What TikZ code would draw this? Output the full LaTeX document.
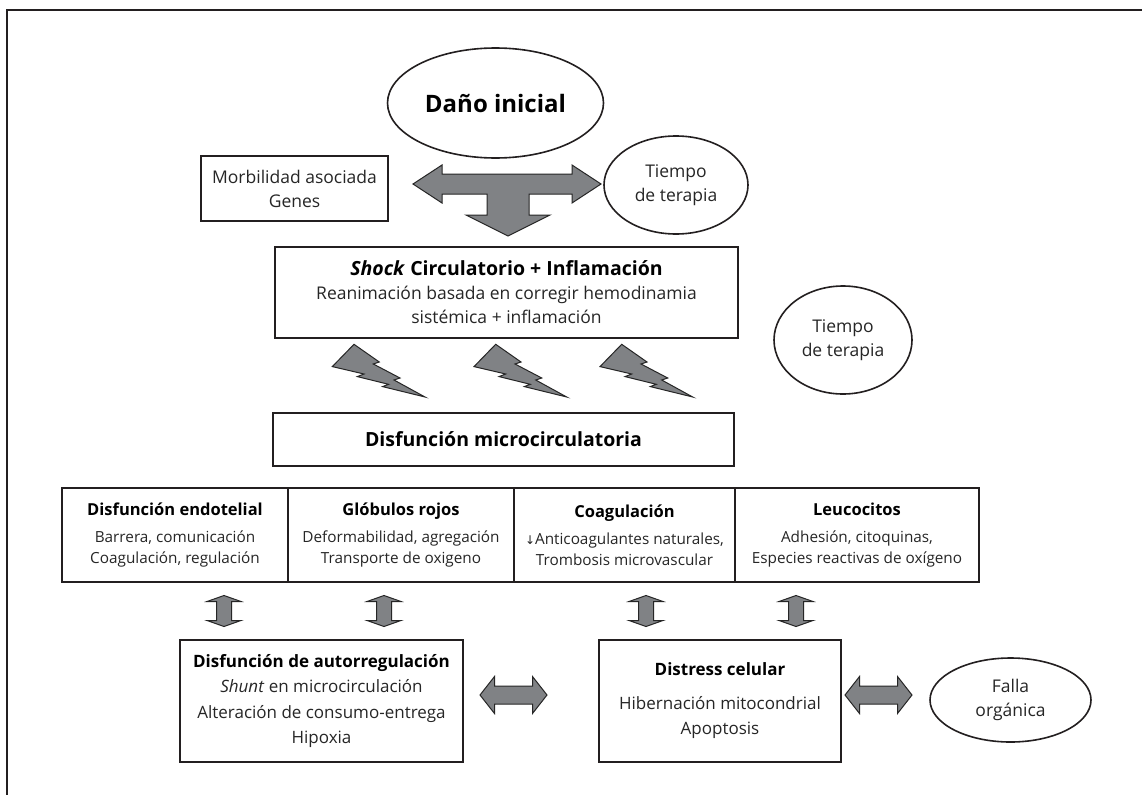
\documentclass[tikz,border=0pt]{standalone}
\usepackage{fontspec}
\setmainfont{Open Sans}
\newfontfamily\symfont{DejaVu Sans}
\usetikzlibrary{shapes.geometric}
\definecolor{arrowgray}{HTML}{808285}
\definecolor{edge}{HTML}{231F20}
\definecolor{txt}{HTML}{262626}
\begin{document}
\begin{tikzpicture}[x=1pt,y=-1pt,
  box/.style={draw=edge,line width=1.6pt,inner sep=0pt,align=center,text=txt},
  oval/.style={ellipse,draw=edge,line width=1.6pt,inner sep=0pt,align=center,text=txt},
  blk/.style={fill=arrowgray,draw=black!85,line width=1pt,line join=miter},
  bigtxt/.style={font=\fontsize{17.5}{24}\selectfont},
  coltxt/.style={font=\fontsize{15.3}{21}\selectfont},
  lowtxt/.style={font=\fontsize{17}{25.5}\selectfont},
  vdarrow/.pic={\path[blk] (0,-15.5) -- (17,-9.5) -- (7.5,-9.5) -- (7.5,9.5) -- (17,9.5) -- (0,15.5) -- (-17,9.5) -- (-7.5,9.5) -- (-7.5,-9.5) -- (-17,-9.5) -- cycle;},
  hdarrow/.pic={\path[blk] (-33.5,0) -- (-19,-18.5) -- (-19,-9) -- (19,-9) -- (19,-18.5) -- (33.5,0) -- (19,18.5) -- (19,9) -- (-19,9) -- (-19,18.5) -- cycle;},
  bolt/.pic={\path[blk] (0,22.3) -- (21.7,0) -- (47,17.7) -- (41,19.7) -- (67.7,33.7) -- (61.7,35.7) -- (92.7,52.7) -- (50.3,42.3) -- (56.3,40) -- (25,32.3) -- (31.7,29.7) -- cycle;}
]
\useasboundingbox (0,0) rectangle (1142,795);
\fill[white] (0,0) rectangle (1142,795);
% frame
\draw[edge,line width=1.5pt] (1142,10) -- (7,10) -- (7,795);

% top
\node[oval,minimum width=216,minimum height=110,font=\fontsize{24}{28}\selectfont\bfseries,text=black] (dano) at (495.5,103) {Daño inicial};
\node[box,bigtxt,minimum width=187,minimum height=65] (morb) at (294.5,188.5) {Morbilidad asociada\\Genes};
\node[oval,bigtxt,minimum width=144,minimum height=98] (tiempo1) at (676,185) {Tiempo\\de terapia};
\path[blk] (413,184) -- (442,165) -- (442,174) -- (572,174) -- (572,165) -- (601,184) -- (572,203) -- (572,194)
  -- (529,194) -- (529,215) -- (550,215) -- (508,236) -- (466,215) -- (487,215) -- (487,194)
  -- (442,194) -- (442,203) -- cycle;

% shock
\node[box,bigtxt,minimum width=463,minimum height=91] (shock) at (506.5,292.5)
  {\textcolor{black}{\fontsize{19.5}{24}\selectfont\textbf{\textit{Shock} Circulatorio + Inflamación}}\\Reanimación basada en corregir hemodinamia\\sistémica + inflamación};
\node[oval,bigtxt,minimum width=138,minimum height=108] (tiempo2) at (843,340) {Tiempo\\de terapia};

\pic (b1) at (332.3,344.3) {bolt};
\pic (b2) at (474,344.3) {bolt};
\pic (b3) at (600,344.3) {bolt};

% micro
\node[box,minimum width=461,minimum height=53,text=black,font=\fontsize{19.5}{24}\selectfont\bfseries] (micro) at (503.5,439.5) {Disfunción microcirculatoria};

% row
\node[box,coltxt,minimum width=226,minimum height=94] (c1) at (175,535)
  {\textcolor{black}{\fontsize{16.5}{21}\selectfont\textbf{Disfunción endotelial}}\\[6pt]Barrera, comunicación\\Coagulación, regulación};
\node[box,coltxt,minimum width=226,minimum height=94] (c2) at (401,535)
  {\textcolor{black}{\fontsize{16.5}{21}\selectfont\textbf{Glóbulos rojos}}\\[6pt]Deformabilidad, agregación\\Transporte de oxigeno};
\node[box,coltxt,minimum width=221,minimum height=94] (c3) at (624.5,535)
  {\textcolor{black}{\fontsize{16.5}{21}\selectfont\textbf{Coagulación}}\\[6pt]{\symfont\fontsize{12}{21}\selectfont ↓}Anticoagulantes naturales,\\Trombosis microvascular};
\node[box,coltxt,minimum width=244,minimum height=94] (c4) at (857,535)
  {\textcolor{black}{\fontsize{16.5}{21}\selectfont\textbf{Leucocitos}}\\[6pt]Adhesión, citoquinas,\\Especies reactivas de oxígeno};

\pic (v1) at (224,611) {vdarrow};
\pic (v2) at (384,611) {vdarrow};
\pic (v3) at (646,611) {vdarrow};
\pic (v4) at (796,611) {vdarrow};

% bottom
\node[box,lowtxt,minimum width=283,minimum height=122] (auto) at (321.5,701)
  {\textcolor{black}{\textbf{Disfunción de autorregulación}}\\\textit{Shunt} en microcirculación\\Alteración de consumo-entrega\\Hipoxia};
\node[box,lowtxt,minimum width=242,minimum height=122] (distress) at (720,701)
  {\textcolor{black}{\textbf{Distress celular}}\\[8pt]Hibernación mitocondrial\\Apoptosis};
\node[oval,bigtxt,minimum width=161,minimum height=84] (falla) at (1010.5,700) {Falla\\orgánica};

\pic (h1) at (513.5,695) {hdarrow};
\pic (h2) at (878.5,695) {hdarrow};
\end{tikzpicture}
\end{document}
